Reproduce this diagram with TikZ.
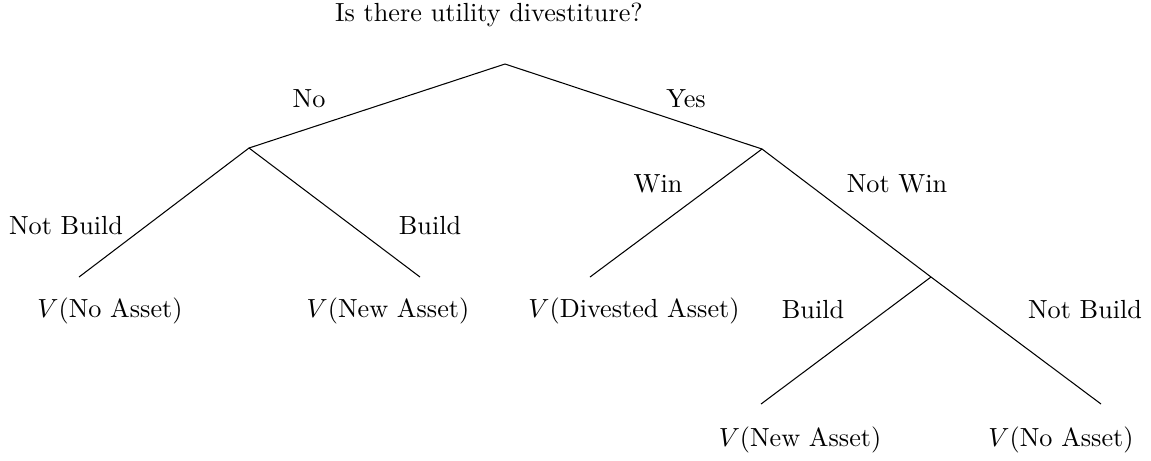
\documentclass[tikz,border=0pt]{standalone}
\begin{document}
\begin{tikzpicture}[x=0.3817pt,y=-0.3817pt,
  lbl/.style={inner sep=0pt,anchor=base},
  branch/.style={draw=black,line width=0.4pt}]
\useasboundingbox (0,0) rectangle (1151,460);
% title
\node[lbl] (title) at (489,21) {Is there utility divestiture?};
% decision points and branch ends
\coordinate (root) at (505,64);
\coordinate (no) at (249,148);
\coordinate (yes) at (762,149);
\coordinate (nb1) at (79,277);
\coordinate (b1) at (420,277);
\coordinate (win) at (590,277);
\coordinate (nw) at (931,277);
\coordinate (b2) at (761,404);
\coordinate (nb2) at (1101,404);
% branches
\draw[branch] (root) -- (no);
\draw[branch] (root) -- (yes);
\draw[branch] (no) -- (nb1);
\draw[branch] (no) -- (b1);
\draw[branch] (yes) -- (win);
\draw[branch] (yes) -- (nw);
\draw[branch] (nw) -- (b2);
\draw[branch] (nw) -- (nb2);
% branch labels
\node[lbl] (lno) at (309,107) {No};
\node[lbl] (lyes) at (686,107) {Yes};
\node[lbl] (lnb1) at (66,234) {Not Build};
\node[lbl] (lb1) at (430,234) {Build};
\node[lbl] (lwin) at (658,192) {Win};
\node[lbl] (lnw) at (897,192) {Not Win};
\node[lbl] (lb2) at (813,318) {Build};
\node[lbl] (lnb2) at (1085,318) {Not Build};
% outcomes
\node[lbl] (v1) at (110,317) {$V$(No Asset)};
\node[lbl] (v2) at (388,317) {$V$(New Asset)};
\node[lbl] (v3) at (634,317) {$V$(Divested Asset)};
\node[lbl] (v4) at (800,446) {$V$(New Asset)};
\node[lbl] (v5) at (1061,446) {$V$(No Asset)};
\end{tikzpicture}
\end{document}
